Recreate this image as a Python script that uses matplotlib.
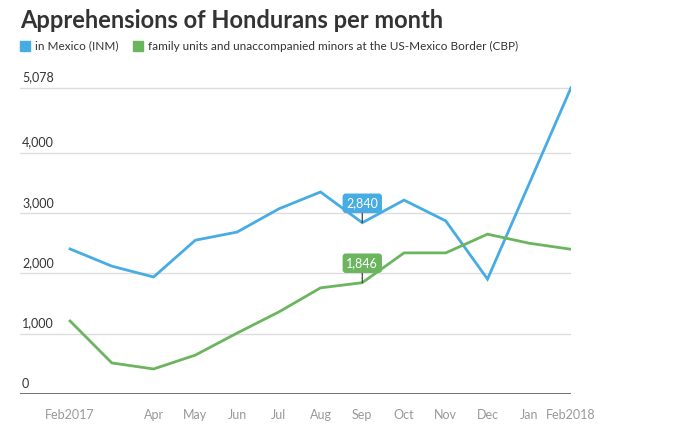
import matplotlib
matplotlib.use("Agg")
import matplotlib.pyplot as plt
from matplotlib.patches import Rectangle
import matplotlib.transforms as mtransforms

months = ["Feb2017", "", "Apr", "May", "Jun", "Jul", "Aug", "Sep", "Oct", "Nov", "Dec", "Jan", "Feb2018"]
mexico_inm = [2405, 2120, 1940, 2550, 2685, 3070, 3350, 2840, 3215, 2870, 1905, 3490, 5078]
border_cbp = [1210, 515, 415, 645, 1010, 1360, 1760, 1846, 2340, 2340, 2650, 2500, 2400]
yticks = [0, 1000, 2000, 3000, 4000, 5078]
ytick_labels = ["0", "1,000", "2,000", "3,000", "4,000", "5,078"]
title = "Apprehensions of Hondurans per month"
legend_labels = ["in Mexico (INM)", "family units and unaccompanied minors at the US-Mexico Border (CBP)"]

BLUE = "#47ace3"
GREEN = "#6cb55f"
plt.rcParams['font.family'] = ['Lato', 'DejaVu Sans']

W, H = 680, 438
fig = plt.figure(figsize=(W / 100, H / 100), dpi=100)
ax = fig.add_axes([20 / W, (H - 394) / H, (571 - 20) / W, (394 - 80.4) / H])
x = list(range(len(months)))
ax.set_xlim(-1.2, 12)
ax.set_ylim(0, 5200)

for t in yticks[1:]:
    ax.axhline(t, color="#dddddd", lw=1, zorder=1)
ax.axhline(0, color="#666666", lw=1.3, zorder=2)

ax.plot(x, mexico_inm, color=BLUE, lw=2.0, zorder=3, solid_joinstyle='miter')
ax.plot(x, border_cbp, color=GREEN, lw=2.0, zorder=3, solid_joinstyle='miter')

for s in ax.spines.values():
    s.set_visible(False)
ax.set_xticks([])
ax.set_yticks([])

# y labels above gridlines
for t, lab in zip(yticks, ytick_labels):
    ax.annotate(lab, xy=(0, t), xycoords=('axes fraction', 'data'), xytext=(1.5, 3),
                textcoords='offset points', ha='left', va='bottom', fontsize=9, color="#333333")

# x labels
for i, lab in enumerate(months):
    ax.annotate(lab, xy=(i, 0), xycoords=('data', 'axes fraction'), xytext=(0, -15),
                textcoords='offset points', ha='center', va='center', fontsize=9, color="#999999")

# callouts
for i, vals, col in [(7, mexico_inm, BLUE), (7, border_cbp, GREEN)]:
    v = vals[i]
    ax.annotate(f"{v:,}", xy=(i, v), xytext=(0, 14), textcoords='offset points',
                ha='center', va='center', fontsize=9, color='white',
                bbox=dict(boxstyle='round,pad=0.3,rounding_size=0.25', fc=col, ec='none'),
                arrowprops=dict(arrowstyle='-', color='#444444', lw=0.9, shrinkA=0, shrinkB=0),
                zorder=5)

# title & legend
fig.text(20 / W, 1 - 21 / H, title, fontsize=17, fontweight='bold', color="#333333",
         ha='left', va='center')
lx = [20, 133]
for px, col, lab in zip(lx, [BLUE, GREEN], legend_labels):
    fig.patches.append(Rectangle((px / W, 1 - 51 / H), 10 / W, 10 / H, transform=fig.transFigure,
                                 color=col, figure=fig))
    fig.text((px + 15) / W, 1 - 46 / H, lab, fontsize=8.5, color="#333333", ha='left', va='center')

fig.savefig("out.png", dpi=100, facecolor='white')
